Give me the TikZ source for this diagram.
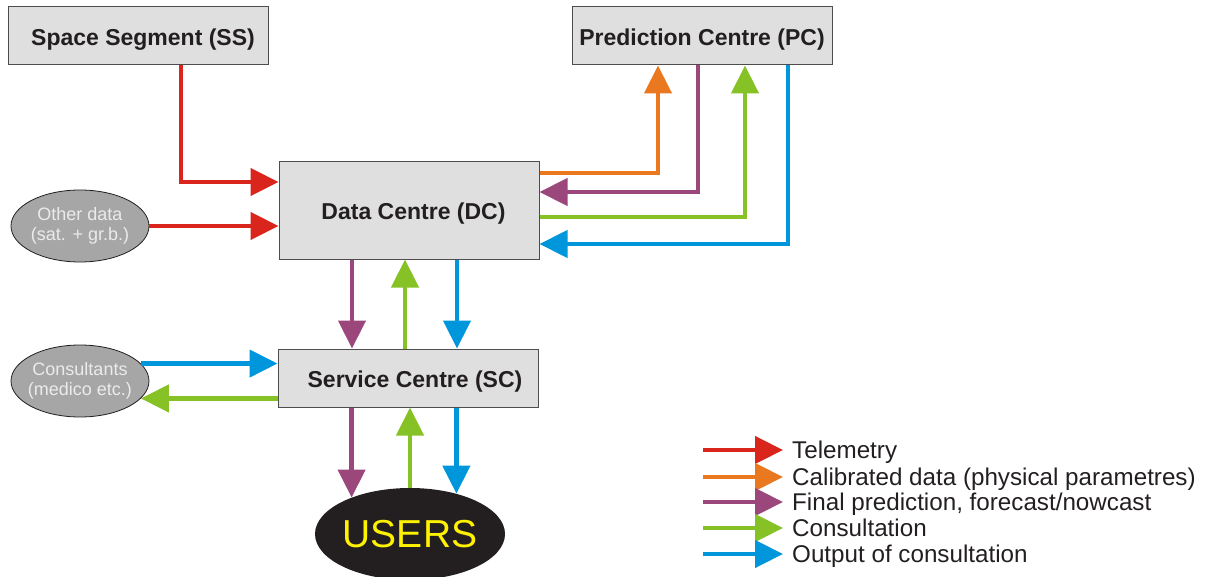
\documentclass[tikz,border=0pt]{standalone}
\usepackage{fontspec}
\setmainfont{Liberation Sans}
\usetikzlibrary{arrows.meta,shapes.geometric,calc}

\definecolor{telred}{HTML}{DA251C}
\definecolor{calor}{HTML}{E9781E}
\definecolor{predpu}{HTML}{9B477C}
\definecolor{consgr}{HTML}{86C226}
\definecolor{outbl}{HTML}{0096DC}
\definecolor{boxgray}{HTML}{DFDFDF}
\definecolor{ellgray}{HTML}{A6A6A6}
\definecolor{ink}{HTML}{231F20}
\definecolor{usertext}{HTML}{FFF200}

\begin{document}
\begin{tikzpicture}[x=1pt,y=-1pt,
  centre/.style={draw=ink!80, line width=1pt, fill=boxgray, minimum width=260pt,
    minimum height=58pt, inner sep=0pt, text=ink, text height=19pt, text depth=0pt,
    font=\fontsize{23}{27}\selectfont\bfseries},
  source/.style={ellipse, draw=ink, line width=0.8pt, fill=ellgray,
    minimum width=138pt, minimum height=72pt, inner ysep=0pt, inner xsep=-14pt,
    align=center, text=white!92!black, font=\fontsize{18}{20}\selectfont},
  flow/.style={line width=4.5pt, line join=miter,
    -{Triangle[length=28pt,width=27pt]}},
  legtext/.style={inner sep=0pt, anchor=base west, text=ink,
    font=\fontsize{24.2}{26}\selectfont}
]
\useasboundingbox (0,0) rectangle (1206,577);

% centres
\node[centre] (ss) at (138,36) {\hspace*{10pt}Space Segment (SS)};
\node[centre] (pc) at (702,36) {Prediction Centre (PC)};
\node[centre, minimum height=97pt] (dc) at (409,210.5) {\hspace*{9pt}Data Centre (DC)};
\node[centre] (sc) at (408,378) {\hspace*{14pt}Service Centre (SC)};

% external sources and users
\node[source] (other) at (80,226) {Other data\\(sat. + gr.b.)};
\node[source] (cons) at (80,381) {Consultants\\(medico etc.)};
\node[ellipse, fill=ink, minimum width=186pt, minimum height=92pt, inner sep=0pt,
  text=usertext, font=\fontsize{39}{42}\selectfont] (users) at (410,534) {USERS};

% telemetry into the data centre
\draw[flow, telred] ([xshift=43pt]ss.south) |- ([yshift=28.5pt]dc.west);
\draw[flow, telred] (other.east) -- (other.east -| dc.west);

% data centre <-> prediction centre
\draw[flow, calor] ([yshift=37.5pt]dc.east) -| ([xshift=-44pt]pc.south);
\draw[flow, predpu] ([xshift=-4pt]pc.south) |- ([yshift=18.5pt]dc.east);
\draw[flow, consgr] ([yshift=-6.5pt]dc.east) -| ([xshift=43pt]pc.south);
\draw[flow, outbl] ([xshift=86pt]pc.south) |- ([yshift=-33.5pt]dc.east);

% data centre <-> service centre
\draw[flow, predpu] ([xshift=-57pt]dc.south) -- ([xshift=-57pt]dc.south |- sc.north);
\draw[flow, consgr] ([xshift=-4pt]dc.south |- sc.north) -- ([xshift=-4pt]dc.south);
\draw[flow, outbl] ([xshift=48pt]dc.south) -- ([xshift=48pt]dc.south |- sc.north);

% service centre <-> consultants
\draw[flow, outbl] (cons.16.75) -- (cons.16.75 -| sc.west);
\draw[flow, consgr] (cons.-16 -| sc.west) -- (cons.-16);

% service centre <-> users
\draw[flow, predpu] (users.148.2 |- sc.south) -- (users.148.2);
\draw[flow, consgr] (users.north) -- (users.north |- sc.south);
\draw[flow, outbl] (users.41 |- sc.south) -- (users.41);

% legend
\node[legtext] (l1) at (792,458.5) {Telemetry};
\node[legtext] (l2) at (792,485.5) {Calibrated data (physical parametres)};
\node[legtext] (l3) at (792,510.5) {Final prediction, forecast/nowcast};
\node[legtext] (l4) at (792,536.5) {Consultation};
\node[legtext] (l5) at (792,562.5) {Output of consultation};
\coordinate (k1) at (703,450);
\coordinate (k2) at (703,477);
\coordinate (k3) at (703,502);
\coordinate (k4) at (703,528);
\coordinate (k5) at (703,554);
\draw[flow, telred] (k1) -- ([xshift=-9pt]k1 -| l1.west);
\draw[flow, calor] (k2) -- ([xshift=-9pt]k2 -| l2.west);
\draw[flow, predpu] (k3) -- ([xshift=-9pt]k3 -| l3.west);
\draw[flow, consgr] (k4) -- ([xshift=-9pt]k4 -| l4.west);
\draw[flow, outbl] (k5) -- ([xshift=-9pt]k5 -| l5.west);
\end{tikzpicture}
\end{document}
